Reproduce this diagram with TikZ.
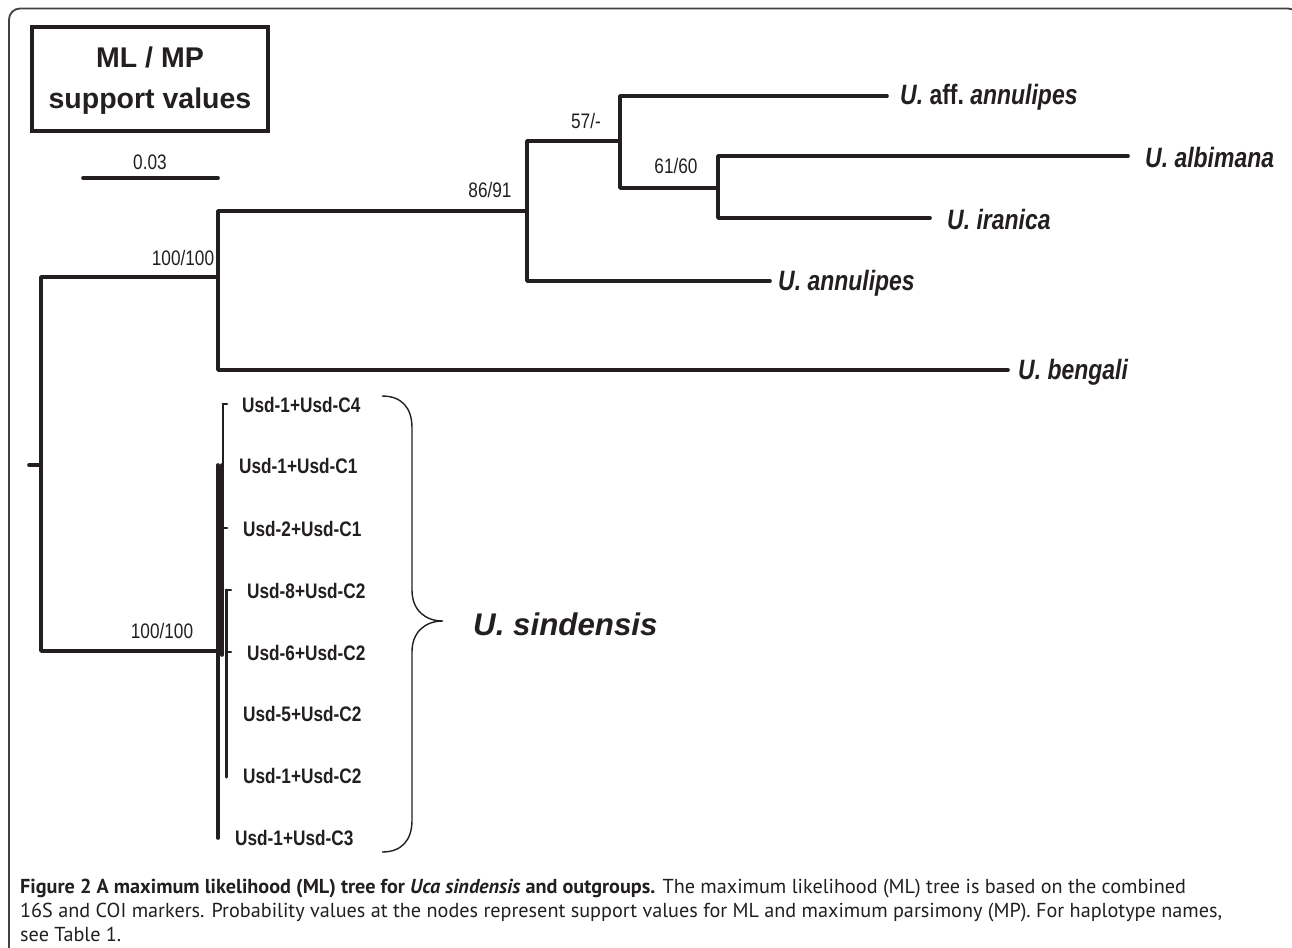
\documentclass[tikz,border=0pt]{standalone}
\usepackage{fontspec}
\setmainfont{Liberation Sans}
\newfontfamily\narrowfont[FakeStretch=0.82]{Liberation Sans}
\newfontfamily\capfont{PT Sans}
\definecolor{ink}{RGB}{35,31,32}
\begin{document}
\begin{tikzpicture}[x=1pt,y=-1pt,
  br/.style={line width=3.6pt, draw=ink, line cap=round, line join=round},
  cl/.style={line width=3.6pt, draw=ink, line cap=round},
  tk/.style={line width=2.6pt, draw=ink, line cap=round},
  frm/.style={line width=1.8pt, draw=ink!85, rounded corners=11pt},
  brc/.style={line width=1.4pt, draw=ink},
  supp/.style={font=\narrowfont\fontsize{21}{24}\selectfont, text=ink, inner sep=0pt},
  spc/.style={font=\narrowfont\bfseries\itshape\fontsize{28}{32}\selectfont, text=ink, anchor=west, inner sep=0pt},
  leaf/.style={font=\narrowfont\bfseries\fontsize{21}{24}\selectfont, text=ink, anchor=west, inner sep=0pt},
  capl/.style={font=\capfont\fontsize{20.2}{24}\selectfont, text=ink, anchor=base west, inner sep=0pt},
  legt/.style={font=\bfseries\fontsize{28.5}{30}\selectfont, text=ink, inner sep=0pt},
]
\useasboundingbox (0,0) rectangle (1292,947);
\fill[white] (0,0) rectangle (1292,947);
% frame
\begin{scope}
\clip (0,0) rectangle (1292,947);
\draw[frm] (9,960) -- (9,8.5) -- (1299,8.5) -- (1299,960);
\end{scope}
% legend box
\node[draw=ink, line width=4.5pt, minimum width=236pt, minimum height=104pt, inner sep=0pt] (legend) at (150,79) {};
\node[legt] (legt1) at (150,57) {ML / MP};
\node[legt] (legt2) at (150,101) {support values};
% scale bar
\coordinate (sbL) at (83,178);
\coordinate (sbR) at (218,178);
\draw[br] (sbL) -- (sbR);
\node[supp] (sbt) at (150,162) {0.03};
% tree coordinates
\coordinate (rstub) at (29,465);
\coordinate (root) at (41,465);
\coordinate (c1) at (218,277);
\coordinate (c2) at (220,651);
\coordinate (n86) at (527,211);
\coordinate (bengE) at (1008,370);
\coordinate (n57) at (620,141);
\coordinate (annE) at (770,281);
\coordinate (affE) at (887,96);
\coordinate (n61) at (718,188);
\coordinate (albE) at (1128,156);
\coordinate (iraE) at (930,218);
\draw[br] (rstub) -- (root);
\draw[br] (root) |- (c1);
\draw[br] (root) |- (c2);
\draw[br] (c1) |- (n86);
\draw[br] (c1) |- (bengE);
\draw[br] (n86) |- (n57);
\draw[br] (n86) |- (annE);
\draw[br] (n57) |- (affE);
\draw[br] (n57) |- (n61);
\draw[br] (n61) |- (albE);
\draw[br] (n61) |- (iraE);
% support values
\node[supp] (s100a) at (183,258) {100/100};
\node[supp] (s100b) at (162,631) {100/100};
\node[supp] (s86) at (490,190) {86/91};
\node[supp] (s57) at (586,121) {57/-};
\node[supp] (s61) at (676,166) {61/60};
% species labels
\node[spc] (taff) at (900,97) {U.\ {\upshape aff.}\ annulipes};
\node[spc] (talb) at (1145,157) {U.\ albimana};
\node[spc] (tira) at (947,219) {U.\ iranica};
\node[spc] (tann) at (778,283) {U.\ annulipes};
\node[spc] (tben) at (1018,372) {U.\ bengali};
% sindensis clade
\coordinate (v0t) at (223,404);
\coordinate (v0b) at (223,470);
\coordinate (v1t) at (218,465);
\coordinate (v1b) at (218,838);
\coordinate (v2t) at (222,465);
\coordinate (v2b) at (222,655);
\coordinate (v3t) at (226,590);
\coordinate (v3b) at (226,777);
\coordinate (t1) at (227,404);
\coordinate (t3a) at (222,528);
\coordinate (t3) at (227,528);
\coordinate (t4) at (231,590);
\coordinate (t5a) at (226,652);
\coordinate (t5) at (231,652);
\draw[tk] (v0t) -- (v0b);
\draw[cl] (v1t) -- (v1b);
\draw[cl] (v2t) -- (v2b);
\draw[line width=3pt, draw=ink, line cap=round] (v3t) -- (v3b);
\draw[tk] (v0t) -- (t1);
\draw[tk] (t3a) -- (t3);
\draw[tk] (v3t) -- (t4);
\draw[tk] (t5a) -- (t5);
\node[leaf] (u1) at (242,405) {Usd-1+Usd-C4};
\node[leaf] (u2) at (239,466) {Usd-1+Usd-C1};
\node[leaf] (u3) at (243,529) {Usd-2+Usd-C1};
\node[leaf] (u4) at (247,591) {Usd-8+Usd-C2};
\node[leaf] (u5) at (247,653) {Usd-6+Usd-C2};
\node[leaf] (u6) at (243,714) {Usd-5+Usd-C2};
\node[leaf] (u7) at (243,776) {Usd-1+Usd-C2};
\node[leaf] (u8) at (235,838) {Usd-1+Usd-C3};
% brace
\coordinate (bt) at (382,396);
\coordinate (bm) at (443,621);
\coordinate (bb) at (382,852);
\draw[brc] (bt) .. controls (402,396) and (412,408) .. (412,428) -- (412,590)
  .. controls (412,610) and (425,621) .. (bm)
  .. controls (425,621) and (412,632) .. (412,652) -- (412,820)
  .. controls (412,840) and (402,852) .. (bb);
\node[font=\bfseries\itshape\fontsize{31.3}{34}\selectfont, text=ink, anchor=west, inner sep=0pt] (tsin) at (473,624) {U.\ sindensis};
% caption
\node[capl] (cap1) at (20,893) {\textbf{Figure 2 A maximum likelihood (ML) tree for \textit{Uca sindensis} and outgroups.} The maximum likelihood (ML) tree is based on the combined};
\node[capl] (cap2) at (20,917) {16S and COI markers. Probability values at the nodes represent support values for ML and maximum parsimony (MP). For haplotype names,};
\node[capl] (cap3) at (20,941) {see Table 1.};
\end{tikzpicture}
\end{document}
